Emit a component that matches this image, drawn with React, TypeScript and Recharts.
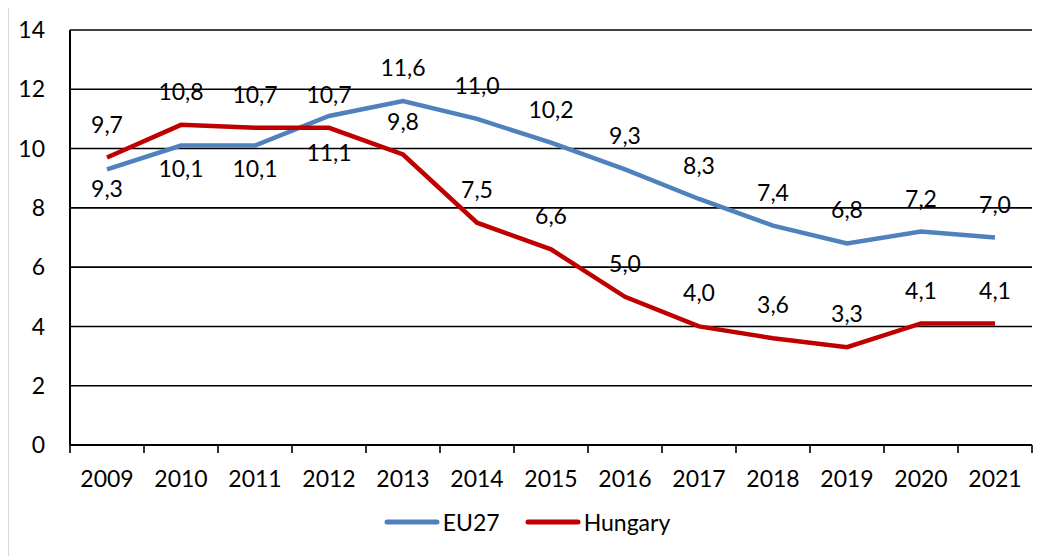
import { LineChart, Line, XAxis, YAxis, CartesianGrid, Legend, LabelList } from 'recharts';

const years = ['2009', '2010', '2011', '2012', '2013', '2014', '2015', '2016', '2017', '2018', '2019', '2020', '2021'];
const eu27 = [9.3, 10.1, 10.1, 11.1, 11.6, 11.0, 10.2, 9.3, 8.3, 7.4, 6.8, 7.2, 7.0];
const hungary = [9.7, 10.8, 10.7, 10.7, 9.8, 7.5, 6.6, 5.0, 4.0, 3.6, 3.3, 4.1, 4.1];
const yTicks = [0, 2, 4, 6, 8, 10, 12, 14];

// label placement (Excel had the first EU27 labels below the line)
const euLabelDy = [20, 23, 23, 37, -33, -33, -33, -33, -33, -33, -33, -33, -33];
const huLabelDy = years.map(() => -33);

const BLUE = '#4F81BD';
const RED = '#C00000';
const FONT = 'Lato, "Open Sans", sans-serif';
const FS = 23;
const HALF_BAND = 37;

const chartData = years.map((year, i) => ({
  x: i + 0.5,
  year,
  eu27: eu27[i],
  hungary: hungary[i],
}));
const xTicks = years.map((_, i) => i).concat(years.length);

const fmt = (v: number) => v.toFixed(1).replace('.', ',');

const makeLabel = (dys: number[]) => (p: any) => {
  const { x, y, value, index } = p;
  return (
    <text
      x={x}
      y={y + dys[index]}
      dy="0.35em"
      textAnchor="middle"
      fontSize={FS}
      fontFamily={FONT}
      fill="#000"
    >
      {fmt(Number(value))}
    </text>
  );
};

const XTick = (p: any) => {
  const { x, y, payload } = p;
  if (payload.value >= years.length) return <g />;
  return (
    <text x={x + HALF_BAND} y={y} dy="0.71em" textAnchor="middle" fontSize={FS} fontFamily={FONT} fill="#000">
      {years[payload.value]}
    </text>
  );
};

const LegendContent = () => (
  <div
    style={{
      display: 'flex',
      justifyContent: 'center',
      alignItems: 'center',
      height: 40,
      paddingLeft: 14,
      fontFamily: FONT,
      fontSize: FS,
      color: '#000',
    }}
  >
    {[
      { name: 'EU27', color: BLUE },
      { name: 'Hungary', color: RED },
    ].map((item, i) => (
      <div key={item.name} style={{ display: 'flex', alignItems: 'center', marginLeft: i ? 25 : 0 }}>
        <svg width={56} height={10}>
          <line x1={3} y1={5} x2={53} y2={5} stroke={item.color} strokeWidth={5} strokeLinecap="round" />
        </svg>
        <span style={{ marginLeft: 3 }}>{item.name}</span>
      </div>
    ))}
  </div>
);

export default function App() {
  return (
    <div style={{ position: 'relative', width: 1035, height: 548 }}>
      <div
        style={{
          position: 'absolute',
          top: -1,
          left: 0,
          width: '100%',
          height: '100%',
          borderTop: '1px solid #d9d9d9',
          borderLeft: '1px solid #d9d9d9',
          pointerEvents: 'none',
        }}
      />
      <LineChart width={1035} height={548} data={chartData} margin={{ top: 22, right: 11, left: 0, bottom: 14 }}>
        <CartesianGrid vertical={false} stroke="#000" strokeWidth={1.6} />
        <XAxis
          dataKey="x"
          type="number"
          domain={[0, years.length]}
          ticks={xTicks}
          interval={0}
          height={57}
          tickSize={8}
          tickMargin={18}
          axisLine={{ stroke: '#000', strokeWidth: 2 }}
          tickLine={{ stroke: '#000', strokeWidth: 1.6 }}
          tick={XTick}
        />
        <YAxis
          domain={[0, 14]}
          ticks={yTicks}
          interval={0}
          width={62}
          tickSize={0}
          tickMargin={25}
          tickLine={false}
          axisLine={{ stroke: '#000', strokeWidth: 2 }}
          tick={{ fill: '#000', fontSize: FS, fontFamily: FONT }}
        />
        <Line
          dataKey="eu27"
          name="EU27"
          stroke={BLUE}
          strokeWidth={4.5}
          dot={false}
          isAnimationActive={false}
        >
          <LabelList dataKey="eu27" content={makeLabel(euLabelDy)} />
        </Line>
        <Line
          dataKey="hungary"
          name="Hungary"
          stroke={RED}
          strokeWidth={4.5}
          dot={false}
          isAnimationActive={false}
        >
          <LabelList dataKey="hungary" content={makeLabel(huLabelDy)} />
        </Line>
        <Legend verticalAlign="bottom" height={40} content={LegendContent} />
      </LineChart>
    </div>
  );
}
